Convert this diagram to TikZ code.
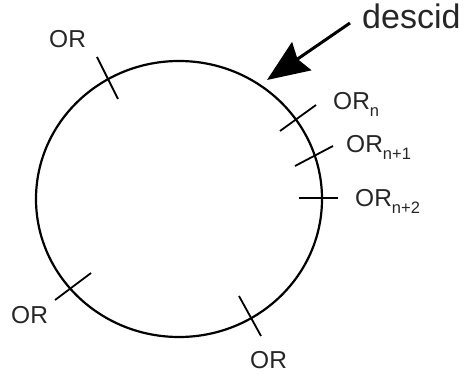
\documentclass[tikz,border=0pt]{standalone}
\usepackage{fontspec}
\setmainfont{Liberation Sans}
\usetikzlibrary{arrows.meta}
\newcommand{\orsub}[1]{OR\raisebox{-0.5ex}{\fontsize{16.5}{16.5}\selectfont #1}}
\tikzset{
  ring/.style={line width=2.2pt},
  tick/.style={line width=1.8pt},
  lbl/.style={inner sep=0pt, anchor=base west, text=black!85, font=\fontsize{24.5}{24.5}\selectfont},
  pointer/.style={line width=3pt, -{Stealth[length=42pt,width=34pt,inset=5pt]}}
}
\begin{document}
\begin{tikzpicture}[x=1pt,y=-1pt]
\useasboundingbox (0,0) rectangle (463,374);
% the ring
\draw[ring] (179,199) ellipse [x radius=143, y radius=138];
% ticks across the ring
\draw[tick] (97,57) -- (118,99);
\draw[tick] (280,131) -- (316,105);
\draw[tick] (295,166) -- (333,146);
\draw[tick] (299,198) -- (338,198);
\draw[tick] (55,300) -- (91,273);
\draw[tick] (239,296) -- (261,336);
% labels
\node[lbl] (or1) at (49,48) {OR};
\node[lbl] (orn) at (333,110) {\orsub{n}};
\node[lbl] (orn1) at (346,153) {\orsub{n+1}};
\node[lbl] (orn2) at (355,207) {\orsub{n+2}};
\node[lbl] (or2) at (11,323) {OR};
\node[lbl] (or3) at (250,368) {OR};
% descid pointer
\node[lbl, font=\fontsize{34}{34}\selectfont] (descid) at (362,29) {descid};
\coordinate (tail) at (350,23);
\coordinate (tip) at (267,80);
\draw[pointer] (tail) -- (tip);
\end{tikzpicture}
\end{document}
